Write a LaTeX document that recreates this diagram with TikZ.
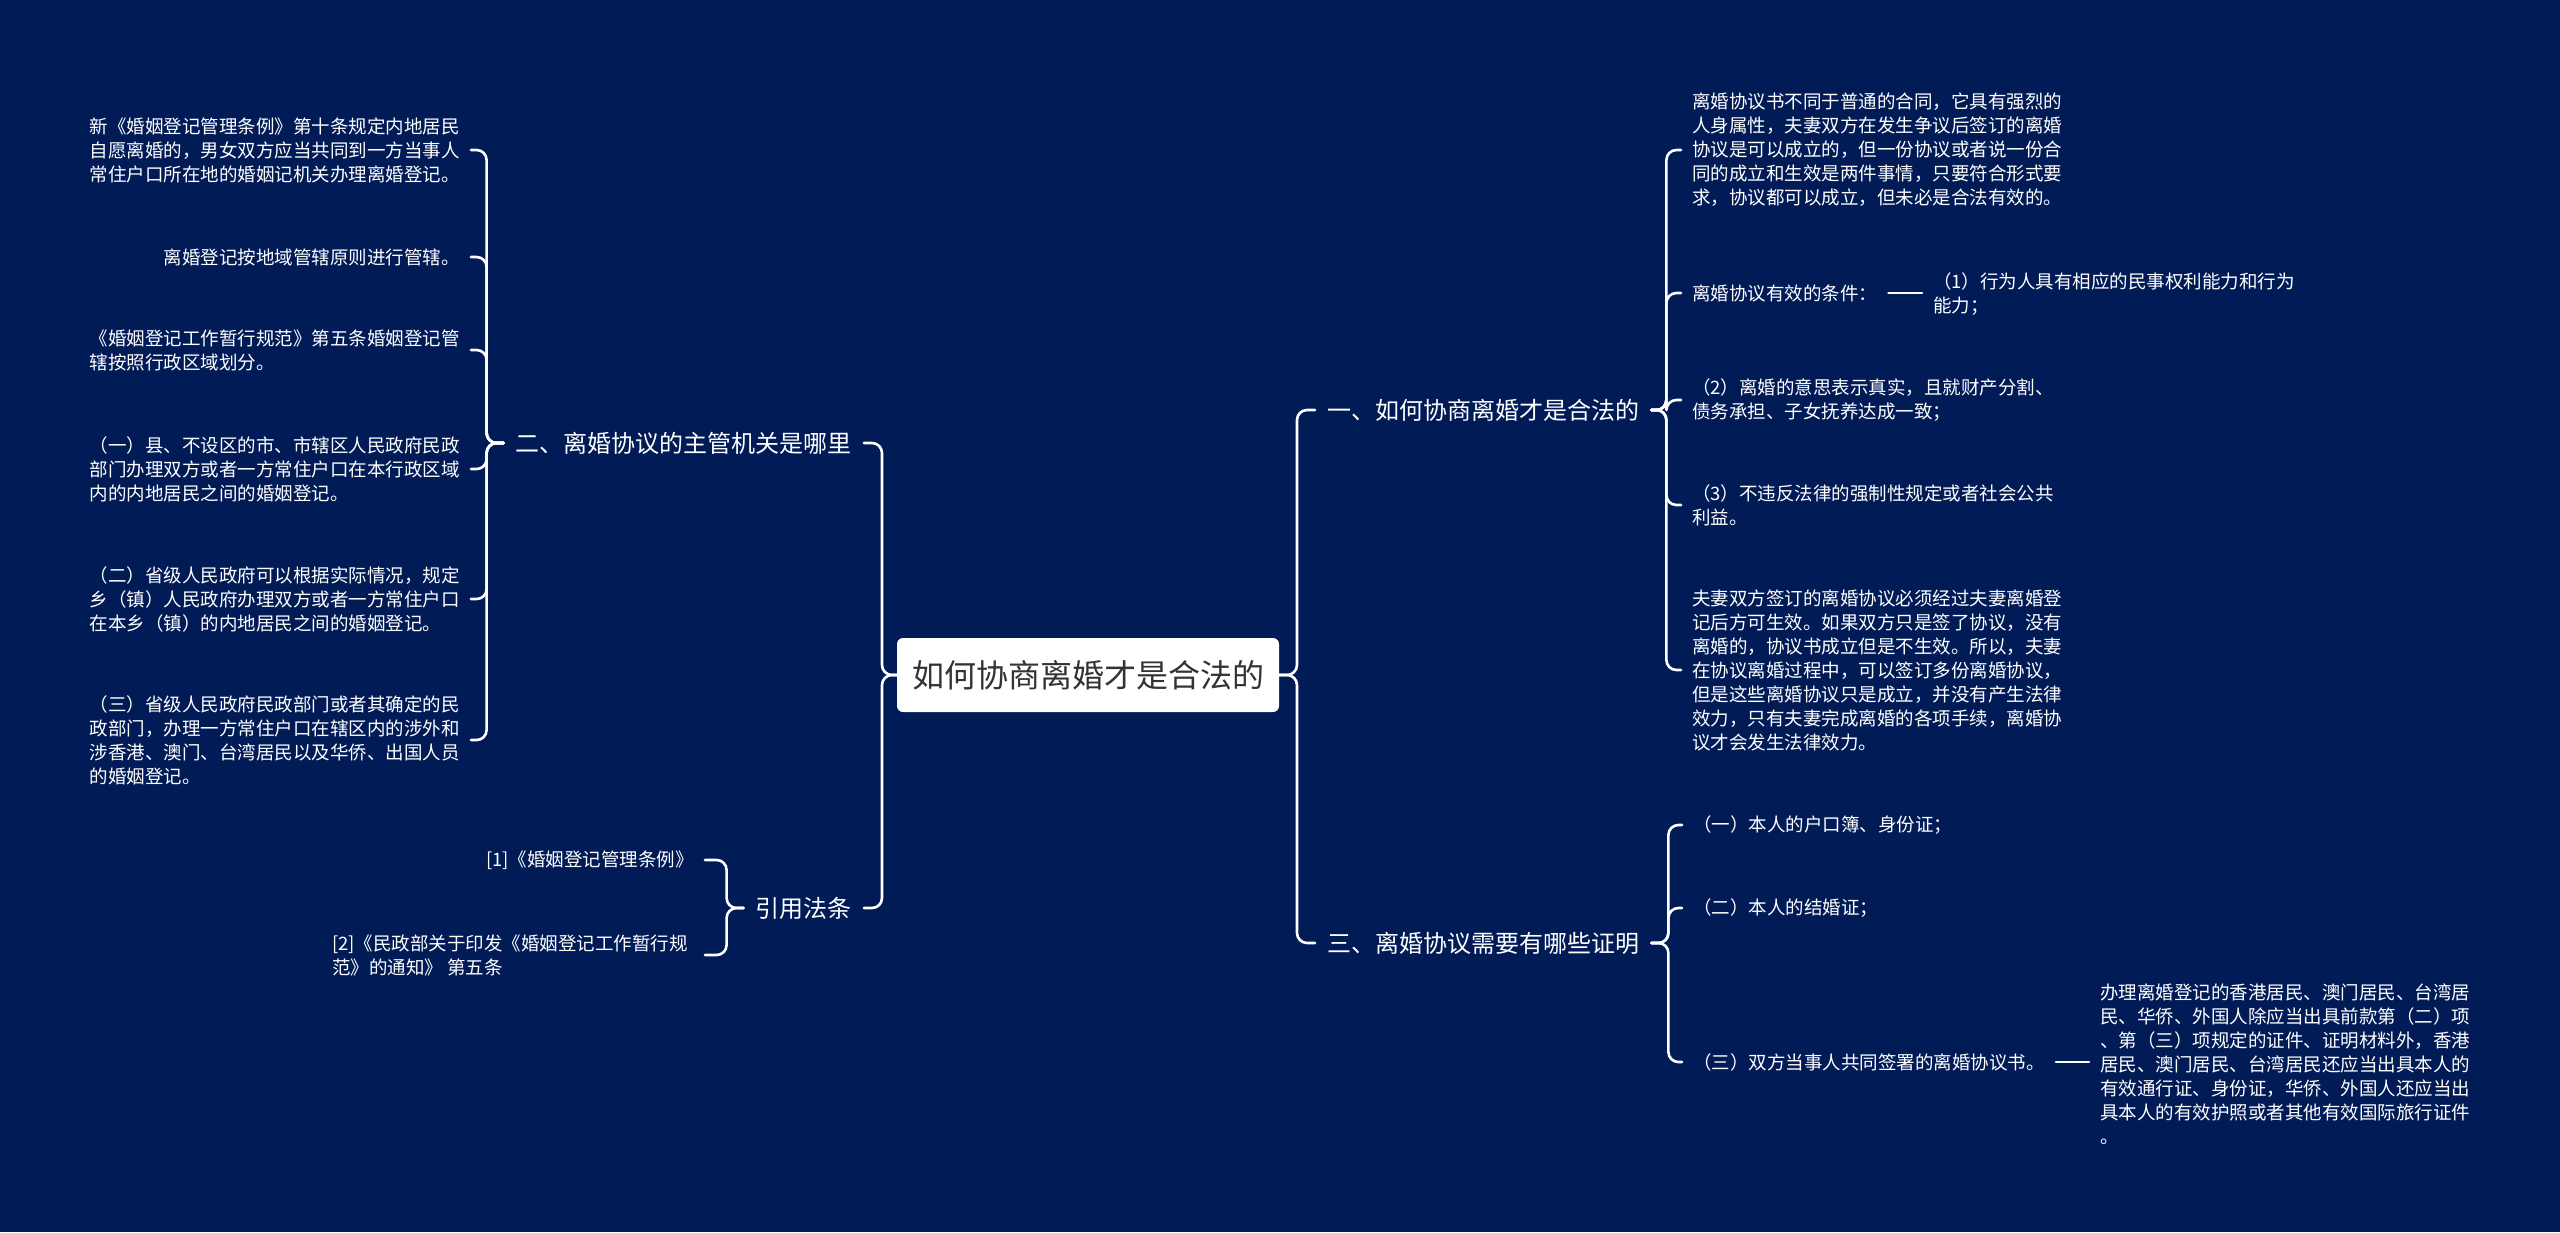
\documentclass[tikz,border=0pt]{standalone}
\usepackage{fontspec}
\newfontfamily\cjk{Noto Sans CJK SC}
\definecolor{bgnavy}{RGB}{1,27,87}
\definecolor{rootink}{RGB}{51,51,51}

\begin{document}
\begin{tikzpicture}[line cap=round,line join=round,x=1pt,y=-1pt,
  link/.style={draw=white,line width=2.6pt,rounded corners=10pt},
  root/.style={fill=white,rounded corners=6pt,text=rootink,font=\cjk\fontsize{32}{38}\selectfont,
    minimum width=382pt,minimum height=74pt,inner sep=0pt},
  topic/.style={text=white,font=\cjk\fontsize{24}{30}\selectfont,inner xsep=12pt,inner ysep=2pt},
  leaf/.style={text=white,font=\cjk\fontsize{18.5}{24}\selectfont,align=left,inner xsep=11pt,inner ysep=1pt}]
\fill[bgnavy] (0,0) rectangle (2560,1232);
\useasboundingbox (0,0) rectangle (2560,1232);
%centre
\node[root] (root) at (1088,675) {如何协商离婚才是合法的};
%branches
\node[topic,anchor=west] (q1) at (1315,410) {一、如何协商离婚才是合法的};
\node[topic,anchor=west] (q3) at (1315,943) {三、离婚协议需要有哪些证明};
\node[topic,anchor=east] (q2) at (864,443) {二、离婚协议的主管机关是哪里};
\node[topic,anchor=east] (q4) at (864,908) {引用法条};
%feuilles droite
\node[leaf,anchor=west] (a1) at (1681,150) {离婚协议书不同于普通的合同，它具有强烈的\\人身属性，夫妻双方在发生争议后签订的离婚\\协议是可以成立的，但一份协议或者说一份合\\同的成立和生效是两件事情，只要符合形式要\\求，协议都可以成立，但未必是合法有效的。};
\node[leaf,anchor=west] (a2) at (1681,293) {离婚协议有效的条件：};
\node[leaf,anchor=west] (a2x) at (1922,294) {（1）行为人具有相应的民事权利能力和行为\\能力；};
\node[leaf,anchor=west] (a3) at (1681,400) {（2）离婚的意思表示真实，且就财产分割、\\债务承担、子女抚养达成一致；};
\node[leaf,anchor=west] (a4) at (1681,505) {（3）不违反法律的强制性规定或者社会公共\\利益。};
\node[leaf,anchor=west] (a5) at (1681,670) {夫妻双方签订的离婚协议必须经过夫妻离婚登\\记后方可生效。如果双方只是签了协议，没有\\离婚的，协议书成立但是不生效。所以，夫妻\\在协议离婚过程中，可以签订多份离婚协议，\\但是这些离婚协议只是成立，并没有产生法律\\效力，只有夫妻完成离婚的各项手续，离婚协\\议才会发生法律效力。};
\node[leaf,anchor=west] (c1) at (1682,825) {（一）本人的户口簿、身份证；};
\node[leaf,anchor=west] (c2) at (1682,908) {（二）本人的结婚证；};
\node[leaf,anchor=west] (c3) at (1682,1062) {（三）双方当事人共同签署的离婚协议书。};
\node[leaf,anchor=west] (c3x) at (2089,1064) {办理离婚登记的香港居民、澳门居民、台湾居\\民、华侨、外国人除应当出具前款第（二）项\\、第（三）项规定的证件、证明材料外，香港\\居民、澳门居民、台湾居民还应当出具本人的\\有效通行证、身份证，华侨、外国人还应当出\\具本人的有效护照或者其他有效国际旅行证件\\。};
%feuilles gauche
\node[leaf,anchor=east] (b1) at (471,150) {新《婚姻登记管理条例》第十条规定内地居民\\自愿离婚的，男女双方应当共同到一方当事人\\常住户口所在地的婚姻记机关办理离婚登记。};
\node[leaf,anchor=east] (b2) at (471,257) {离婚登记按地域管辖原则进行管辖。};
\node[leaf,anchor=east] (b3) at (471,350) {《婚姻登记工作暂行规范》第五条婚姻登记管\\辖按照行政区域划分。};
\node[leaf,anchor=east] (b4) at (471,469) {（一）县、不设区的市、市辖区人民政府民政\\部门办理双方或者一方常住户口在本行政区域\\内的内地居民之间的婚姻登记。};
\node[leaf,anchor=east] (b5) at (471,599) {（二）省级人民政府可以根据实际情况，规定\\乡（镇）人民政府办理双方或者一方常住户口\\在本乡（镇）的内地居民之间的婚姻登记。};
\node[leaf,anchor=east] (b6) at (471,740) {（三）省级人民政府民政部门或者其确定的民\\政部门，办理一方常住户口在辖区内的涉外和\\涉香港、澳门、台湾居民以及华侨、出国人员\\的婚姻登记。};
\node[leaf,anchor=east] (r1) at (705,860) {[1]《婚姻登记管理条例》};
\node[leaf,anchor=east,inner xsep=17pt] (r2) at (705,955) {[2]《民政部关于印发《婚姻登记工作暂行规\\范》的通知》 第五条};
%liens
\coordinate (rt) at (1297,675);
\coordinate (lt) at (882,675);
\foreach \n in {q1,q3} \draw[link] (root.east) -- (rt) |- (\n.west);
\foreach \n in {q2,q4} \draw[link] (root.west) -- (lt) |- (\n.east);
\foreach \n in {a1,a2,a3,a4,a5} \draw[link] (q1.east) -- ++(15,0) |- (\n.west);
\foreach \n in {c1,c2,c3} \draw[link] (q3.east) -- ++(17,0) |- (\n.west);
\foreach \n in {b1,b2,b3,b4,b5,b6} \draw[link] (q2.west) -- ++(-17,0) |- (\n.east);
\foreach \n in {r1,r2} \draw[link] (q4.west) -- ++(-17,0) |- (\n.east);
\draw[link] (a2.east) -- (a2.east -| a2x.west);
\draw[link] (c3.east) -- (c3.east -| c3x.west);
\end{tikzpicture}
\end{document}
